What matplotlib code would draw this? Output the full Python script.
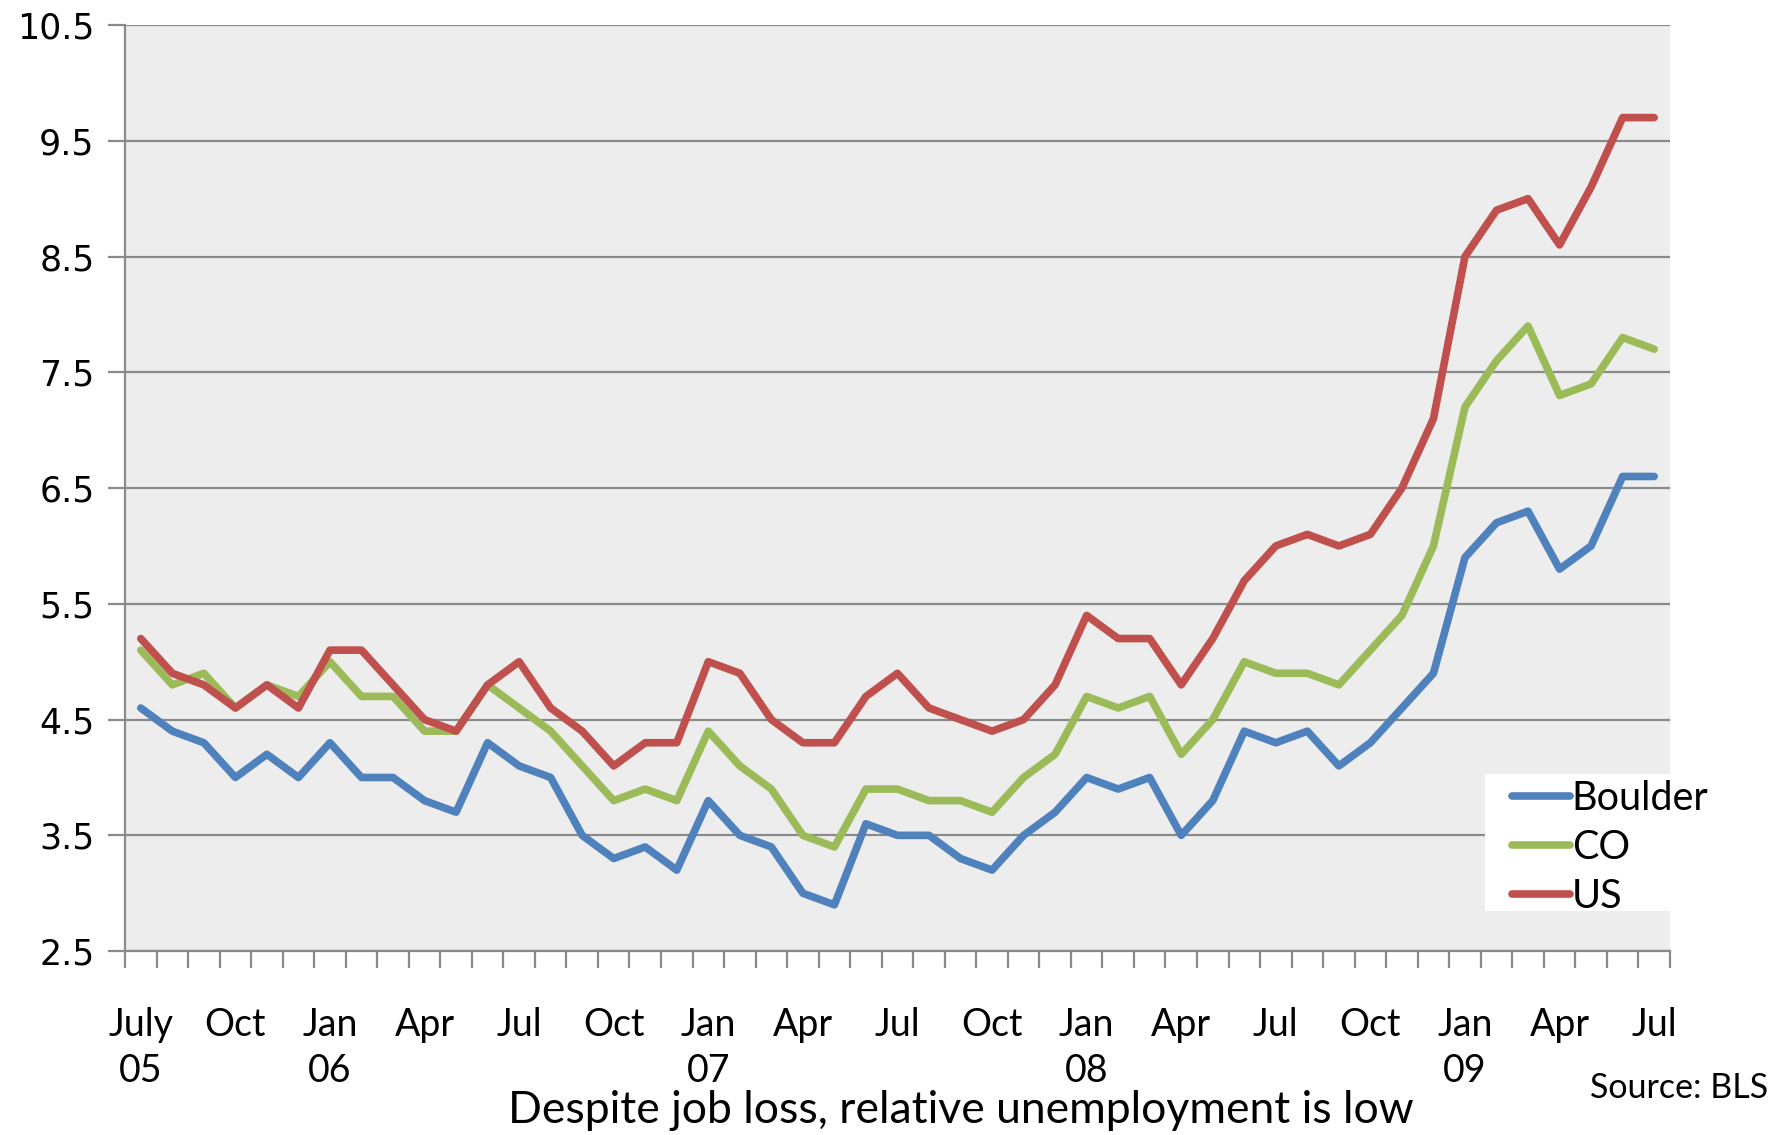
import numpy as np
import matplotlib
matplotlib.use('Agg')
import matplotlib.pyplot as plt
from matplotlib.patches import Rectangle

# monthly unemployment rate, July 2005 .. July 2009
boulder = [4.6, 4.4, 4.3, 4.0, 4.2, 4.0, 4.3, 4.0, 4.0, 3.8,
           3.7, 4.3, 4.1, 4.0, 3.5, 3.3, 3.4, 3.2, 3.8, 3.5,
           3.4, 3.0, 2.9, 3.6, 3.5, 3.5, 3.3, 3.2, 3.5, 3.7,
           4.0, 3.9, 4.0, 3.5, 3.8, 4.4, 4.3, 4.4, 4.1, 4.3,
           4.6, 4.9, 5.9, 6.2, 6.3, 5.8, 6.0, 6.6, 6.6]
co = [5.1, 4.8, 4.9, 4.6, 4.8, 4.7, 5.0, 4.7, 4.7, 4.4,
      4.4, 4.8, 4.6, 4.4, 4.1, 3.8, 3.9, 3.8, 4.4, 4.1,
      3.9, 3.5, 3.4, 3.9, 3.9, 3.8, 3.8, 3.7, 4.0, 4.2,
      4.7, 4.6, 4.7, 4.2, 4.5, 5.0, 4.9, 4.9, 4.8, 5.1,
      5.4, 6.0, 7.2, 7.6, 7.9, 7.3, 7.4, 7.8, 7.7]
us = [5.2, 4.9, 4.8, 4.6, 4.8, 4.6, 5.1, 5.1, 4.8, 4.5,
      4.4, 4.8, 5.0, 4.6, 4.4, 4.1, 4.3, 4.3, 5.0, 4.9,
      4.5, 4.3, 4.3, 4.7, 4.9, 4.6, 4.5, 4.4, 4.5, 4.8,
      5.4, 5.2, 5.2, 4.8, 5.2, 5.7, 6.0, 6.1, 6.0, 6.1,
      6.5, 7.1, 8.5, 8.9, 9.0, 8.6, 9.1, 9.7, 9.7]

tick_idx = [0, 3, 6, 9, 12, 15, 18, 21, 24, 27, 30, 33, 36, 39, 42, 45, 48]
tick_lab = ['July\n05', 'Oct', 'Jan\n06', 'Apr', 'Jul', 'Oct', 'Jan\n07', 'Apr', 'Jul',
            'Oct', 'Jan\n08', 'Apr', 'Jul', 'Oct', 'Jan\n09', 'Apr', 'Jul']
y_ticks = [2.5, 3.5, 4.5, 5.5, 6.5, 7.5, 8.5, 9.5, 10.5]

plt.rcParams['font.family'] = ['Lato', 'DejaVu Sans']

fig = plt.figure(figsize=(17.86, 11.35), dpi=100)
ax = fig.add_axes([0.070, 0.162, 0.865, 0.816])
ax.set_facecolor('#ededed')

x = np.arange(len(us))
ax.plot(x, boulder, color='#4f81bd', lw=5.5, solid_capstyle='round', solid_joinstyle='round', label='Boulder', zorder=3)
ax.plot(x, co, color='#9bbb59', lw=5.5, solid_capstyle='round', solid_joinstyle='round', label='CO', zorder=3)
ax.plot(x, us, color='#c0504d', lw=5.5, solid_capstyle='round', solid_joinstyle='round', label='US', zorder=3)

ax.set_xlim(-0.5, len(us) - 0.5)
ax.set_ylim(2.5, 10.5)
ax.set_yticks(y_ticks)
ax.set_yticklabels(['%.1f' % v for v in y_ticks], family='DejaVu Sans', fontsize=25)
ax.yaxis.grid(True, color='#8a8a8a', lw=1.6)
ax.set_axisbelow(True)

ax.set_xticks(tick_idx)
ax.set_xticklabels(tick_lab, fontsize=27, linespacing=1.35, va='top')
ax.tick_params(axis='x', which='major', length=0, pad=40)
ax.set_xticks(np.arange(-0.5, len(us)), minor=True)
ax.tick_params(axis='x', which='minor', length=12, width=1.6, color='#8a8a8a')
ax.tick_params(axis='y', length=12, width=1.6, color='#8a8a8a', pad=10)

for s in ['top', 'right']:
    ax.spines[s].set_visible(False)
for s in ['left', 'bottom']:
    ax.spines[s].set_color('#8a8a8a')
    ax.spines[s].set_linewidth(1.6)

# white legend box, the text runs over its right edge as in the original
ax.add_patch(Rectangle((0.880, 0.043), 0.120, 0.148, transform=ax.transAxes,
                       facecolor='white', edgecolor='none', zorder=4))
leg = ax.legend(loc='upper left', bbox_to_anchor=(0.898, 0.185), fontsize=28.5,
                frameon=False, handlelength=1.45, handletextpad=0.05,
                labelspacing=0.3, borderpad=0, borderaxespad=0)
leg.set_zorder(5)

fig.text(0.538, 0.022, 'Despite job loss, relative unemployment is low', ha='center', va='center', fontsize=32)
fig.text(0.99, 0.041, 'Source: BLS', ha='right', va='center', fontsize=24.5)

fig.savefig('out.png', dpi=100, facecolor='white')
